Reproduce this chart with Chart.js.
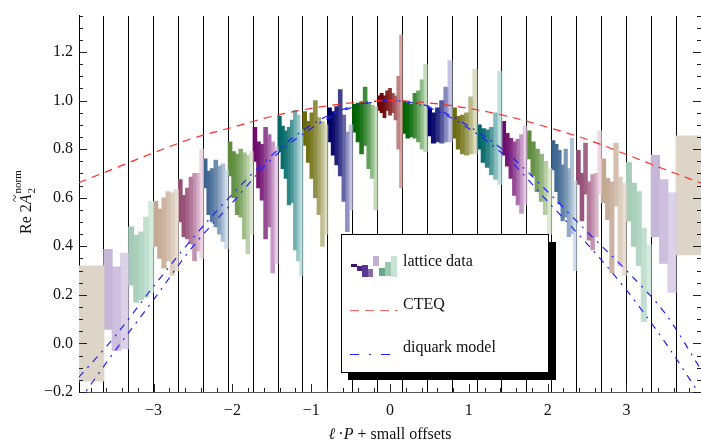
<!DOCTYPE html>
<html><head><meta charset="utf-8">
<script src="https://cdn.jsdelivr.net/npm/chart.js@4.4.0/dist/chart.umd.min.js"></script>
<style>html,body{margin:0;padding:0;background:#fff;overflow:hidden}</style>
</head><body>
<canvas id="c" width="701" height="444" style="display:block;width:701px;height:444px"></canvas>
<script>
// ---------------- data ----------------
const groupIndex = [-12,-11,-10,-9,-8,-7,-6,-5,-4,-3,-2,-1,0,1,2,3,4,5,6,7,8,9,10,11,12];
const groupStep = 0.3157;           // spacing of the ℓ·P groups
const xMin = -3.946, xMax = 3.946;

const xTickValues = [-3,-2,-1,0,1,2,3];
const xTickLabels = ['\u22123','\u22122','\u22121','0','1','2','3'];
const yTickValues = [-0.2,0,0.2,0.4,0.6,0.8,1.0,1.2];
const yTickLabels = ['\u22120.2','0.0','0.2','0.4','0.6','0.8','1.0','1.2'];

// lattice data: lower / upper ends of each error bar, left to right inside each group
const latticeLo = [
  [-0.155],
  [0.058,-0.03,-0.023],
  [0.24,0.17,0.18,0.19,0.21],
  [0.40,0.35,0.31,0.34,0.28,0.30],
  [0.50,0.44,0.43,0.41,0.34,0.38,0.35],
  [0.64,0.53,0.50,0.48,0.45,0.42,0.39],
  [0.69,0.60,0.53,0.52,0.43,0.37,0.45],
  [0.75,0.64,0.59,0.43,0.48,0.29,0.33],
  [0.79,0.72,0.68,0.57,0.58,0.385,0.34,0.28],
  [0.815,0.745,0.68,0.60,0.53,0.40,0.45],
  [0.83,0.775,0.735,0.69,0.585,0.46,0.55],
  [0.87,0.83,0.78,0.815,0.72,0.68,0.55],
  [0.96,0.95,0.93,0.96,0.94,0.95,0.92,0.80,0.64],
  [0.865,0.845,0.85,0.845,0.83,0.80,0.79],
  [0.855,0.825,0.83,0.825,0.83,0.83],
  [0.845,0.80,0.78,0.775,0.78,0.78],
  [0.80,0.745,0.725,0.695,0.675,0.655],
  [0.775,0.73,0.68,0.61,0.57,0.535,0.57],
  [0.76,0.69,0.625,0.585,0.53,0.45],
  [0.715,0.625,0.575,0.505,0.52,0.44,0.45,0.30],
  [0.655,0.505,0.615,0.425,0.385,0.44,0.615],
  [0.58,0.51,0.29,0.565,0.32,0.28],
  [0.505,0.40,0.32,0.09,0.20],
  [0.44,0.33,0.21],
  [0.365]
];
const latticeHi = [
  [0.32],
  [0.388,0.315,0.372],
  [0.48,0.445,0.46,0.52,0.585],
  [0.585,0.553,0.60,0.625,0.62,0.635],
  [0.675,0.61,0.64,0.685,0.70,0.70,0.80],
  [0.76,0.71,0.72,0.755,0.73,0.74,0.715],
  [0.83,0.79,0.78,0.80,0.785,0.775,0.79],
  [0.89,0.83,0.82,0.89,0.86,0.83,0.81],
  [0.935,0.895,0.875,0.89,0.92,0.96,0.94,0.88],
  [0.955,0.915,0.95,1.0,0.93,0.915,0.90],
  [0.97,0.955,0.975,1.045,0.94,0.87,0.90],
  [0.985,0.99,0.995,1.056,0.99,0.98,0.975],
  [1.02,1.03,1.02,1.04,1.05,1.03,1.02,1.10,1.27],
  [0.995,0.99,0.985,1.03,1.04,1.085,1.15],
  [0.97,0.95,0.97,1.0,1.056,1.165],
  [0.97,0.935,0.94,0.95,1.016,1.13],
  [0.90,0.885,0.88,0.89,0.95,1.12],
  [0.915,0.865,0.845,0.83,0.84,0.86,0.895],
  [0.875,0.83,0.80,0.78,0.75,0.72],
  [0.835,0.82,0.795,0.735,0.80,0.72,0.845,0.67],
  [0.795,0.70,0.825,0.665,0.695,0.70,0.875],
  [0.76,0.68,0.665,0.825,0.685,0.66],
  [0.745,0.66,0.625,0.475,0.405],
  [0.775,0.675,0.62],
  [0.855]
];

// CTEQ curve
const cteqX = [-3.95,-3.5,-3.0,-2.5,-2.0,-1.5,-1.0,-0.5,0,0.5,1.0,1.5,2.0,2.5,3.0,3.5,3.95];
const cteqY = [0.662,0.72,0.785,0.845,0.89,0.935,0.968,0.99,1.0,0.99,0.968,0.935,0.89,0.84,0.778,0.715,0.66];
// diquark model band (two curves)
const diquarkX = [-3.95,-3.5,-3.0,-2.5,-2.0,-1.5,-1.0,-0.5,0,0.5,1.0,1.5,2.0,2.5,3.0,3.5,3.95];
const diquarkUpper = [-0.14,0.025,0.235,0.435,0.615,0.775,0.90,0.975,1.0,0.975,0.895,0.78,0.625,0.46,0.30,0.12,-0.11];
const diquarkLower = [-0.24,-0.035,0.18,0.40,0.58,0.76,0.885,0.97,1.0,0.97,0.885,0.76,0.585,0.41,0.22,0.0,-0.22];

// ---------------- styles ----------------
const groupColors = [
  ['#6a0000','#d4a4a4'], ['#006400','#c4dcbc'], ['#000066','#c4c4e2'], ['#6b6b0c','#dcdcc2'],
  ['#006666','#c2e2e2'], ['#6c0c6c','#e6cce6'], ['#5c8c3c','#dde8d0'], ['#3c6490','#d2deea'],
  ['#944c74','#eed6e4'], ['#c4a892','#e8ded4'], ['#a4ccb8','#d4eade'], ['#c6b6d8','#dcd2e8'],
  ['#ddd6c8','#ddd6c8']
];
const SERIF = '"Liberation Serif", "DejaVu Serif", serif';
const plotWidthPx = 622;
const groupPx = groupStep * plotWidthPx / (xMax - xMin);

function hex2rgb(h){ return [1,3,5].map(i=>parseInt(h.substr(i,2),16)); }
// colour that looks like mix(a,b,t) over white, but lets the group lines show through lighter bars
function shade(a, b, t) {
  const A = hex2rgb(a), B = hex2rgb(b);
  const target = A.map((v, i) => v + (B[i] - v) * t);
  const alpha = 1 - 0.28 * t;
  const base = target.map(v => Math.max(0, Math.min(255, Math.round((v - (1 - alpha) * 255) / alpha))));
  return 'rgba(' + base.join(',') + ',' + alpha.toFixed(3) + ')';
}

const latticeDatasets = groupIndex.map((k, gi) => {
  const lo = latticeLo[gi], hi = latticeHi[gi], n = lo.length;
  const center = k * groupStep;
  const data = lo.map((l, i) => ({ x: center + groupStep * ((i + 0.5) / n - 0.5), y: [l, hi[i]] }));
  const [c0, c1] = groupColors[Math.abs(k)];
  const colors = lo.map((_, i) => shade(c0, c1, n === 1 ? 0 : Math.pow(i / (n - 1), 1.6)));
  return { type: 'bar', label: 'lattice data', data, backgroundColor: colors, borderWidth: 0,
           grouped: false, barThickness: groupPx / n + 0.4, order: 2 };
});

const lineDatasets = [
  { type: 'line', label: 'CTEQ', data: cteqX.map((x, i) => ({x, y: cteqY[i]})),
    borderColor: '#ff2a2a', borderWidth: 1.2, borderDash: [8,6], pointRadius: 0, fill: false,
    cubicInterpolationMode: 'monotone', order: 0 },
  { type: 'line', label: 'diquark model', data: diquarkX.map((x, i) => ({x, y: diquarkUpper[i]})),
    borderColor: '#2020ff', borderWidth: 1.2, borderDash: [7,6,2,6], pointRadius: 0, fill: false,
    cubicInterpolationMode: 'monotone', order: 0 },
  { type: 'line', label: 'diquark model (lower)', data: diquarkX.map((x, i) => ({x, y: diquarkLower[i]})),
    borderColor: '#2020ff', borderWidth: 1.2, borderDash: [7,6,2,6], pointRadius: 0, fill: false,
    cubicInterpolationMode: 'monotone', order: 0 }
];

const groupEdges = groupIndex.slice(0, -1).map(k => (k + 0.5) * groupStep);

// inward frame ticks (Mathematica style)
const frameTicks = {
  id: 'frameTicks',
  afterDatasetsDraw(chart) {
    const {ctx, chartArea: a, scales: {x, y}} = chart;
    ctx.save();
    ctx.strokeStyle = '#222'; ctx.lineWidth = 1;
    ctx.beginPath();
    for (let i = 0; i <= 31; i++) {
      const v = -0.2 + i * 0.05;
      const py = Math.round(y.getPixelForValue(v)) + 0.5;
      const len = (i % 4 === 0) ? 8 : 4;
      ctx.moveTo(a.left, py); ctx.lineTo(a.left + len, py);
      ctx.moveTo(a.right, py); ctx.lineTo(a.right - len, py);
    }
    for (let i = -19; i <= 19; i++) {
      const v = i * 0.2;
      const px = Math.round(x.getPixelForValue(v)) + 0.5;
      const len = (i % 5 === 0) ? 8 : 4;
      ctx.moveTo(px, a.bottom); ctx.lineTo(px, a.bottom - len);
    }
    ctx.stroke();
    ctx.restore();
  }
};

// axis titles with italic symbols and sub/superscripts
const axisTitles = {
  id: 'axisTitles',
  afterDraw(chart) {
    const ctx = chart.ctx;
    const a = chart.chartArea;
    ctx.save();
    ctx.fillStyle = '#111';
    ctx.textBaseline = 'alphabetic';
    // x title
    const parts = [['\u2113', 'italic '], ['\u2009\u00b7', ''], ['P', 'italic '], [' + small offsets', '']];
    let total = 0;
    parts.forEach(p => { ctx.font = p[1] + '16px ' + SERIF; total += ctx.measureText(p[0]).width; });
    let px = (a.left + a.right) / 2 - total / 2;
    parts.forEach(p => { ctx.font = p[1] + '16px ' + SERIF; ctx.fillText(p[0], px, 439); px += ctx.measureText(p[0]).width; });
    // y title
    ctx.translate(31, 234);
    ctx.rotate(-Math.PI / 2);
    ctx.font = '16px ' + SERIF;
    ctx.fillText('Re 2', 0, 0);
    let xx = ctx.measureText('Re 2').width;
    ctx.font = 'italic 16px ' + SERIF;
    ctx.fillText('A', xx, 0);
    const aw = ctx.measureText('A').width;
    ctx.font = '14px ' + SERIF;
    const tw = ctx.measureText('~').width;
    ctx.fillText('~', xx + aw / 2 - tw / 2 + 1, -11);
    xx += aw;
    ctx.font = '11px ' + SERIF;
    ctx.fillText('2', xx + 1, 4);
    ctx.fillText('norm', xx + 1, -10);
    ctx.restore();
  }
};

// framed legend with drop shadow
const boxLegend = {
  id: 'boxLegend',
  afterDraw(chart) {
    const ctx = chart.ctx;
    const L = 341, T = 234, W = 207, H = 138;
    ctx.save();
    ctx.fillStyle = '#000';
    ctx.fillRect(L + 7, T + 8, W + 1, H);
    ctx.fillStyle = '#fff';
    ctx.fillRect(L, T, W, H);
    ctx.strokeStyle = '#000'; ctx.lineWidth = 1;
    ctx.strokeRect(L + 0.5, T + 0.5, W, H);
    const icon = [
      [351,264,6,3,'#3a1470'],[357,266,5,5,'#4a2480'],[362,265,6,12,'#5a3890'],[368,269,5,8,'#8868a8'],
      [373,256,6,10,'#c0b0d4'],[379,268,6,8,'#6aa88a'],[385,262,6,14,'#9cc8b0'],[391,256,6,21,'#c8e2d4']
    ];
    icon.forEach(r => { ctx.fillStyle = r[4]; ctx.fillRect(r[0], r[1], r[2], r[3]); });
    ctx.lineWidth = 1.2;
    ctx.strokeStyle = '#ff6060';
    ctx.setLineDash([9,6]);
    ctx.beginPath(); ctx.moveTo(350, 310.5); ctx.lineTo(398, 310.5); ctx.stroke();
    ctx.strokeStyle = '#2020ff';
    ctx.setLineDash([9,10,2,10]);
    ctx.beginPath(); ctx.moveTo(350, 354.5); ctx.lineTo(398, 354.5); ctx.stroke();
    ctx.setLineDash([]);
    ctx.fillStyle = '#111';
    ctx.font = '16px ' + SERIF;
    ctx.textBaseline = 'alphabetic';
    ctx.fillText('lattice data', 403, 266);
    ctx.fillText('CTEQ', 403, 309);
    ctx.fillText('diquark model', 403, 352);
    ctx.restore();
  }
};

new Chart(document.getElementById('c'), {
  type: 'bar',
  data: { datasets: [...lineDatasets, ...latticeDatasets] },
  plugins: [frameTicks, axisTitles, boxLegend],
  options: {
    responsive: false, animation: false, devicePixelRatio: 1,
    layout: { padding: { top: 7, right: 0, left: 0, bottom: 0 } },
    plugins: { legend: { display: false }, tooltip: { enabled: false } },
    scales: {
      x: {
        type: 'linear', position: 'bottom', min: xMin, max: xMax, offset: false,
        afterBuildTicks: s => { s.ticks = xTickValues.map(v => ({ value: v })); },
        afterFit: s => { s.height = 52; },
        grid: { display: false, drawTicks: false, offset: false },
        border: { display: true, color: '#555', width: 1 },
        ticks: { autoSkip: false, maxRotation: 0, padding: 9, color: '#111',
                 font: { family: SERIF, size: 16 },
                 callback: (v, i) => xTickLabels[i] }
      },
      x2: {
        type: 'linear', position: 'top', min: xMin, max: xMax, offset: false,
        afterBuildTicks: s => { s.ticks = groupEdges.map(v => ({ value: v })); },
        afterFit: s => { s.height = 0; },
        grid: { display: true, color: '#000', lineWidth: 1, drawTicks: false, offset: false },
        border: { display: false },
        ticks: { display: false }
      },
      y: {
        type: 'linear', position: 'left', min: -0.2, max: 1.35,
        afterBuildTicks: s => { s.ticks = yTickValues.map(v => ({ value: v })); },
        afterFit: s => { s.width = 79; },
        grid: { display: false, drawTicks: false },
        border: { display: true, color: '#000', width: 1 },
        ticks: { padding: 6, color: '#111', font: { family: SERIF, size: 16 },
                 callback: (v, i) => yTickLabels[i] }
      }
    }
  }
});
</script>
</body></html>
